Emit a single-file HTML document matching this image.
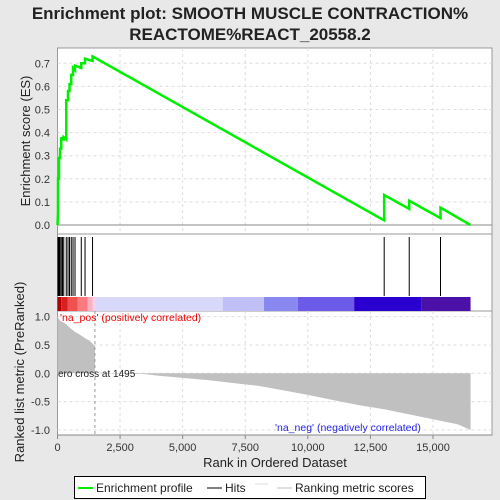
<!DOCTYPE html>
<html><head><meta charset="utf-8"><style>
body{margin:0;background:#e8e8e8;font-family:"Liberation Sans",sans-serif;}
svg{display:block}
</style></head><body>
<svg id="c" width="500" height="500" xmlns="http://www.w3.org/2000/svg">
<text x="250" y="19" text-anchor="middle" font-size="17" font-weight="bold" fill="#222">Enrichment plot: SMOOTH MUSCLE CONTRACTION%</text>
<text x="250" y="40" text-anchor="middle" font-size="17" font-weight="bold" fill="#222">REACTOME%REACT_20558.2</text>
<g id="g"></g>
</svg>
<script>
const esRanks=[0,20,20,60,60,100,100,150,150,200,200,250,250,350,350,420,420,480,480,550,550,620,620,700,700,950,950,1100,1100,1400,1400,13050,13050,14050,14050,15300,15300,16500];
const esValues=[0,0.05,0.2,0.2,0.29,0.29,0.33,0.33,0.38,0.37,0.37,0.37,0.38,0.37,0.54,0.54,0.58,0.58,0.61,0.61,0.65,0.65,0.68,0.67,0.69,0.68,0.70,0.70,0.72,0.71,0.73,0.02,0.13,0.07,0.105,0.03,0.075,0];
const hitRanks=[20,60,100,150,200,250,350,420,480,550,620,700,950,1100,1400,13050,14050,15300];
const metricRanks=[0,100,300,500,700,900,1100,1300,1495,1496,3400,4000,5000,6000,7000,8000,9000,10000,11000,12000,13000,14000,15000,16000,16500];
const metricValues=[1.0,0.93,0.88,0.8,0.73,0.68,0.62,0.57,0.48,0,-0.01,-0.04,-0.08,-0.12,-0.17,-0.22,-0.3,-0.38,-0.47,-0.56,-0.63,-0.72,-0.81,-0.9,-1.0];
const xTicks=[0,2500,5000,7500,10000,12500,15000];
const xTickLabels=["0","2,500","5,000","7,500","10,000","12,500","15,000"];
const esTicks=[0,0.1,0.2,0.3,0.4,0.5,0.6,0.7];
const metricTicks=[1.0,0.5,0,-0.5,-1.0];
const metricTickLabels=["1.0","0.5","0.0","-0.5","-1.0"];

const L=57.5,R=492;
const X=r=>L+r*(433-57.5)/15000;
const Y1=v=>225-v*231;
const Y3=v=>373.3-v*56.7;
const g=document.getElementById('g');
const NS="http://www.w3.org/2000/svg";
function mk(t,a,p){const e=document.createElementNS(NS,t);for(const k in a)e.setAttribute(k,a[k]);(p||g).appendChild(e);return e;}
let e;
e=mk('rect',{x:L,y:48,width:R-L,height:186,fill:'#fff',stroke:'#999'});


e=mk('rect',{x:L,y:234,width:R-L,height:77,fill:'#fff',stroke:'#999'});


e=mk('rect',{x:L,y:311,width:R-L,height:124,fill:'#fff',stroke:'#999'});


xTicks.forEach(t=>{if(t>0){mk('line',{x1:X(t),x2:X(t),y1:48,y2:234,stroke:'#ddd','stroke-dasharray':'3,3'});mk('line',{x1:X(t),x2:X(t),y1:311,y2:435,stroke:'#ddd','stroke-dasharray':'3,3'});}});
esTicks.forEach((t,i)=>{mk('line',{x1:L,x2:R,y1:Y1(t),y2:Y1(t),stroke:i==0?'#888':'#ddd','stroke-dasharray':i==0?'':'3,3'});
 e=mk('text',{x:50,y:Y1(t)+4,'text-anchor':'end','font-size':11,fill:'#333'});e.textContent=t.toFixed(1);
 
 });
metricTicks.forEach((t,i)=>{mk('line',{x1:L,x2:R,y1:Y3(t),y2:Y3(t),stroke:'#ddd','stroke-dasharray':'3,3'});
 e=mk('text',{x:50,y:Y3(t)+4,'text-anchor':'end','font-size':11,fill:'#333'});e.textContent=metricTickLabels[i];
 
 });
e=mk('polyline',{points:esRanks.map((r,i)=>X(r)+','+Y1(esValues[i])).join(' '),fill:'none',stroke:'#00ee00','stroke-width':2.5});


hitRanks.forEach(r=>{e=mk('line',{x1:X(r),x2:X(r),y1:237,y2:296,stroke:'#000','stroke-width':1});
 
 });
const segs=[[0,150,'#b00000'],[150,400,'#d82020'],[400,800,'#f05050'],[800,1200,'#fa7a80'],[1200,1400,'#fbb0c0'],[1400,1495,'#f8d0e8'],[1495,6600,'#d8d8fa'],[6600,8250,'#c0c0f6'],[8250,9600,'#8888f0'],[9600,11850,'#6c5ae8'],[11850,14550,'#2a00d0'],[14550,16500,'#4a10a8']];
segs.forEach(s=>{e=mk('rect',{x:X(s[0]),y:297,width:X(s[1])-X(s[0]),height:14,fill:s[2]});
 
 });
let pts=[X(0)+','+Y3(0)];
metricRanks.forEach((r,i)=>{pts.push(X(r)+','+Y3(metricValues[i]));});
pts.push(X(16500)+','+Y3(0));
e=mk('polygon',{points:pts.join(' '),fill:'#c0c0c0'});


mk('line',{x1:X(1495),x2:X(1495),y1:311,y2:435,stroke:'#999','stroke-dasharray':'3,3'});
e=mk('text',{x:58,y:377,'font-size':10,fill:'#222'});e.textContent='ero cross at 1495';


e=mk('text',{x:60,y:321,'font-size':10.5,fill:'#e00'});e.textContent="'na_pos' (positively correlated)";


e=mk('text',{x:275,y:431,'font-size':10.5,fill:'#22e'});e.textContent="'na_neg' (negatively correlated)";


mk('line',{x1:L,x2:R,y1:435,y2:435,stroke:'#888'});
xTicks.forEach((t,i)=>{mk('line',{x1:X(t),x2:X(t),y1:435,y2:439,stroke:'#888'});
 e=mk('text',{x:X(t),y:451,'text-anchor':'middle','font-size':11,fill:'#333'});e.textContent=xTickLabels[i];
 
 });
e=mk('text',{x:275,y:467,'text-anchor':'middle','font-size':13,fill:'#222'});e.textContent='Rank in Ordered Dataset';


e=mk('text',{x:0,y:0,'text-anchor':'middle','font-size':13,fill:'#222',transform:'translate(30,141) rotate(-90)'});e.textContent='Enrichment score (ES)';


e=mk('text',{x:0,y:0,'text-anchor':'middle','font-size':13,fill:'#222',transform:'translate(24,372) rotate(-90)'});e.textContent='Ranked list metric (PreRanked)';


e=mk('rect',{x:74.5,y:476.5,width:351,height:22,fill:'#fff',stroke:'#000'});


mk('line',{x1:78,x2:93,y1:488,y2:488,stroke:'#00ee00','stroke-width':2});
e=mk('text',{x:96,y:492,'font-size':12,fill:'#222'});e.textContent='Enrichment profile';


mk('line',{x1:207,x2:222,y1:488,y2:488,stroke:'#000'});
e=mk('text',{x:225,y:492,'font-size':12,fill:'#222'});e.textContent='Hits';


mk('line',{x1:255,x2:268,y1:484,y2:484,stroke:'#ddd'});
mk('line',{x1:277,x2:292,y1:488,y2:488,stroke:'#c0c0c0'});
e=mk('text',{x:295,y:492,'font-size':12,fill:'#222'});e.textContent='Ranking metric scores';


</script>
</body></html>
